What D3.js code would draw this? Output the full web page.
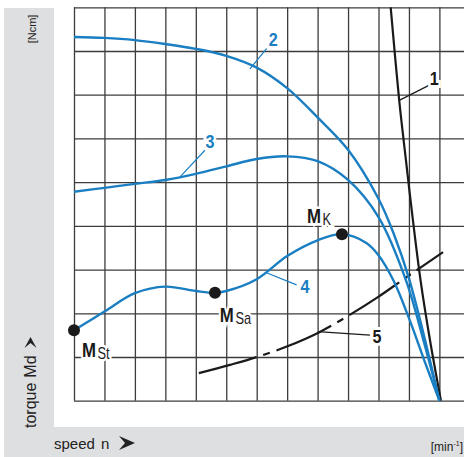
<!DOCTYPE html>
<html><head><meta charset="utf-8">
<script src="https://cdn.jsdelivr.net/npm/d3@7"></script>
<style>
html,body{margin:0;padding:0;background:#fff;}
svg{display:block;}
text{font-family:"Liberation Sans",Arial,sans-serif;}
</style></head>
<body>
<svg id="chart" width="464" height="457"></svg>
<script>
// ---- data (speed in grid units, torque in grid units) ----
const gridX = d3.range(0, 13);
const gridY = d3.range(0, 10);

const speed2 = [0,1,2,3,4,5,6,7,8,9,10,10.5,11,11.5,12];
const torque2 = [8.32,8.30,8.25,8.16,8.05,7.89,7.62,7.15,6.48,5.74,4.62,3.82,2.80,1.47,0];

const speed3 = [0,1,2,3,4,5,6,7,8,9,10,10.9,11.5,12];
const torque3 = [4.78,4.87,4.96,5.05,5.19,5.36,5.53,5.59,5.48,5.05,4.20,2.76,1.32,0];

const speed4 = [0,1,2,3,4,4.63,5,6,7,8,8.8,9.6,10,10.5,11,11.5,12];
const torque4 = [1.61,2.04,2.46,2.61,2.51,2.47,2.51,2.78,3.31,3.67,3.81,3.61,3.33,2.74,1.89,0.93,0];

const speed5 = [4.1,5.12,6.01,7.03,8.01,9.0,9.98,10.97,12.12];
const torque5 = [0.63,0.82,1.0,1.25,1.55,1.94,2.37,2.85,3.40];

const speed1 = [10.40,10.68,10.90,11.13,11.38,11.69,12.05];
const torque1 = [9.0,6.87,5.51,4.13,2.76,1.39,0];

const markNames = ["M","M","M"];
const markSubs = ["St","Sa","K"];
const markSpeed = [0,4.63,8.80];
const markTorque = [1.61,2.47,3.81];
const markLabelSpeed = [0.26,4.79,7.65];
const markLabelTorque = [1.0,1.80,4.07];

const curveLabels = ["1","2","3","4","5"];
const leaderFrom = [[10.68,6.87],[5.78,7.59],[3.50,5.13],[6.34,2.92],[8.01,1.58]];
const leaderTo = [[11.67,7.22],[6.33,8.06],[4.30,5.73],[7.31,2.65],[9.72,1.50]];
const labelAt = [[11.83,7.22],[6.54,8.11],[4.47,5.78],[7.59,2.46],[9.95,1.32]];
const labelIsBlue = [false,true,true,true,false];

const BLUE = "#1a7ec2", BLACK = "#1a1a1a";

const svg = d3.select("#chart");
const x = d3.scaleLinear().domain([0,12]).range([74,439.4]);
const y = d3.scaleLinear().domain([0,9]).range([400.7,7.3]);

// backgrounds
svg.append("rect").attr("x",4).attr("y",8).attr("width",460).attr("height",449).attr("fill","#dedfe0");
svg.append("rect").attr("x",54).attr("y",0).attr("width",410).attr("height",427).attr("fill","#fff");

// grid via axes
const gx = svg.append("g").attr("transform",`translate(0,${y(0)})`)
  .call(d3.axisBottom(x).tickValues(gridX).tickSize(-(y(0)-y(9))).tickFormat(""));
const gy = svg.append("g").attr("transform",`translate(${x(0)},0)`)
  .call(d3.axisLeft(y).tickValues(gridY).tickSize(-(464-x(0))).tickFormat(""));
[gx,gy].forEach(g=>{ g.select(".domain").remove(); g.selectAll("line").attr("stroke","#3c3c3c").attr("stroke-width",1.3); });

const line = d3.line().x(d=>x(d[0])).y(d=>y(d[1])).curve(d3.curveCatmullRom.alpha(0.5));
const zip = (a,b)=>a.map((v,i)=>[v,b[i]]);

// leader lines
leaderFrom.forEach((p,i)=>{
  svg.append("line").attr("x1",x(p[0])).attr("y1",y(p[1])).attr("x2",x(leaderTo[i][0])).attr("y2",y(leaderTo[i][1]))
    .attr("stroke",labelIsBlue[i]?BLUE:BLACK).attr("stroke-width",1.2);
});

// curve labels with white halo
labelAt.forEach((p,i)=>{
  svg.append("text").attr("transform",`translate(${x(p[0])},${y(p[1])}) scale(0.85,1)`).attr("text-anchor","middle")
    .attr("font-size",19).attr("font-weight","bold")
    .attr("fill",labelIsBlue[i]?BLUE:BLACK)
    .attr("stroke","#fff").attr("stroke-width",6).attr("paint-order","stroke")
    .text(curveLabels[i]);
});

// curves
svg.append("path").attr("d",line(zip(speed5,torque5))).attr("fill","none").attr("stroke",BLACK)
  .attr("stroke-width",2.2).attr("stroke-dasharray","60 7 7 7");
svg.append("path").attr("d",line(zip(speed1,torque1))).attr("fill","none").attr("stroke",BLACK).attr("stroke-width",2.2);
[[speed2,torque2],[speed3,torque3],[speed4,torque4]].forEach(([s,t])=>{
  svg.append("path").attr("d",line(zip(s,t))).attr("fill","none").attr("stroke",BLUE).attr("stroke-width",2.4);
});

// marked points
markSpeed.forEach((s,i)=>{
  svg.append("circle").attr("cx",x(s)).attr("cy",y(markTorque[i])).attr("r",6).attr("fill",BLACK);
  const t = svg.append("text").attr("transform",`translate(${x(markLabelSpeed[i])},${y(markLabelTorque[i])}) scale(0.8,1)`)
    .attr("fill",BLACK).attr("stroke","#fff").attr("stroke-width",5).attr("paint-order","stroke");
  t.append("tspan").attr("font-size",21).attr("font-weight","bold").text(markNames[i]);
  t.append("tspan").attr("font-size",16).attr("dx",2).attr("dy",2).text(markSubs[i]);
});

// axis captions
svg.append("text").attr("transform","translate(36,29) rotate(-90)").attr("text-anchor","middle")
  .attr("font-size",11).attr("fill","#222").text("[Ncm]");
const ty = svg.append("text").attr("transform","translate(35.5,428) rotate(-90)").attr("text-anchor","start")
  .attr("font-size",16).attr("fill","#222");
ty.append("tspan").text("torque");
ty.append("tspan").attr("dx",5).text("Md");
svg.append("path").attr("d","M0,0 L-5,-6 L6,0 L-5,6 Z").attr("fill","#222")
  .attr("transform","translate(30.5,343) rotate(-90)");

const tx = svg.append("text").attr("x",54).attr("y",448.5).attr("font-size",15).attr("fill","#222");
tx.append("tspan").text("speed");
tx.append("tspan").attr("dx",6).text("n");
svg.append("path").attr("d","M0,0 L-6,-7 L10,0 L-6,7 Z").attr("fill","#222")
  .attr("transform","translate(125,443)");

const tm = svg.append("text").attr("x",463).attr("y",451).attr("text-anchor","end").attr("font-size",12).attr("fill","#222");
tm.append("tspan").text("[min");
tm.append("tspan").attr("font-size",7).attr("dy",-5).text("-1");
tm.append("tspan").attr("dy",5).text("]");
</script>
</body></html>
